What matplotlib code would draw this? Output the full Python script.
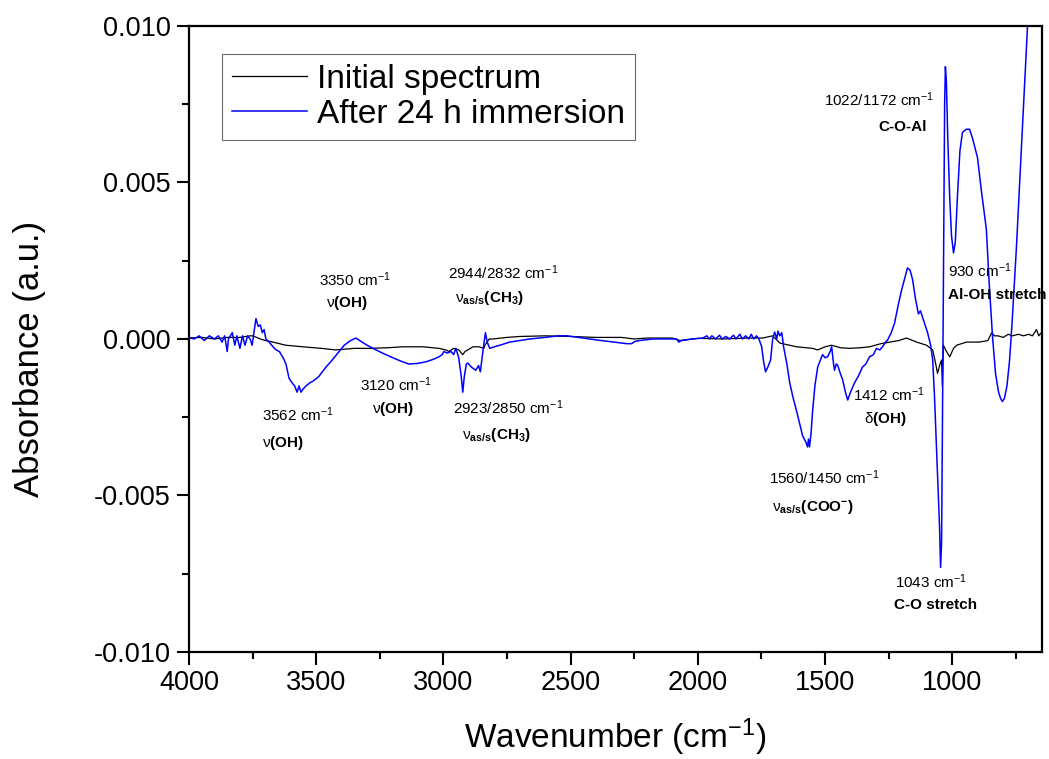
"""
FTIR difference spectra: initial vs after 24 h immersion.
Values read off the reference picture.
"""

import matplotlib
matplotlib.use('Agg')
import matplotlib.pyplot as plt
from matplotlib.ticker import MultipleLocator

# font settings (Arial-like)
plt.rcParams['font.family'] = ['Liberation Sans', 'DejaVu Sans']
plt.rcParams['mathtext.fontset'] = 'custom'
plt.rcParams['mathtext.rm'] = 'Liberation Sans'
plt.rcParams['mathtext.it'] = 'Liberation Sans:italic'
plt.rcParams['mathtext.bf'] = 'Liberation Sans:bold'
plt.rcParams['axes.unicode_minus'] = False

# ---------------- data ----------------
# initial spectrum (black)
wn_initial = [4000, 3950, 3900, 3850, 3800, 3760, 3749, 3720, 3700, 3670, 3620, 3552,
              3480, 3423, 3350, 3293, 3220, 3159, 3080, 3018, 2990, 2979, 2960, 2939,
              2930, 2924, 2915, 2904, 2884, 2860, 2841, 2837, 2820, 2806, 2750, 2700,
              2600, 2500, 2400, 2300, 2250, 2200, 2100, 2071, 2000, 1900, 1800, 1745,
              1706, 1678, 1612, 1549, 1529, 1500, 1474, 1440, 1404, 1360, 1325, 1280,
              1246, 1210, 1180, 1140, 1101, 1077, 1065, 1058, 1048, 1042, 1039, 1035,
              1026, 1010, 995, 983, 944, 893, 860, 845, 834, 820, 800, 780, 763, 740,
              720, 700, 685, 669, 660, 650]
abs_initial = [0.00003, 0.00005, 0.0, 0.00005, 0.00005, 0.0001, 0.0001, 0.0, -0.00005,
               -0.0001, -0.0002, -0.00025, -0.0003, -0.00035, -0.0003, -0.0003, -0.00028,
               -0.00025, -0.00025, -0.0003, -0.00035, -0.0004, -0.0003, -0.00035, -0.00045,
               -0.0005, -0.0004, -0.00035, -0.00025, -0.00025, -0.0003, -0.0002, 0.0, 0.0,
               0.00005, 0.00008, 0.0001, 0.00008, 0.00005, 0.00005, 0.0, 0.00003, 0.00003,
               -0.00005, 0.00002, 0.0, 0.00003, 0.00003, 0.0001, -0.00013, -0.00025,
               -0.0003, -0.00035, -0.00025, -0.0002, -0.00028, -0.0003, -0.00028, -0.00025,
               -0.00015, -0.0001, -0.00005, 0.00003, -0.0001, -0.0002, -0.00035, -0.0008,
               -0.0011, -0.0008, -0.00067, -0.0015, -0.0002, -0.00035, -0.00057, -0.0003,
               -0.0002, -0.0001, -0.0001, -0.00005, 0.0002, 0.0001, 0.0001, 0.00005,
               0.00015, 0.0001, 0.00015, 0.0001, 0.00015, 0.0001, 0.0003, 0.0001, 0.0002]

# after 24 h immersion (blue)
wn_immersed = [4000, 3980, 3960, 3940, 3920, 3900, 3885, 3870, 3860, 3850, 3845, 3830,
               3820, 3812, 3800, 3790, 3780, 3770, 3760, 3752, 3745, 3737, 3728, 3720,
               3712, 3705, 3698, 3685, 3670, 3658, 3645, 3630, 3619, 3607, 3595, 3585,
               3575, 3568, 3560, 3552, 3540, 3525, 3513, 3490, 3462, 3440, 3415, 3390,
               3365, 3344, 3320, 3300, 3277, 3240, 3199, 3170, 3136, 3100, 3069, 3040,
               3018, 3005, 2998, 2985, 2970, 2960, 2951, 2940, 2930, 2924, 2918, 2910,
               2904, 2890, 2873, 2862, 2855, 2845, 2835, 2828, 2818, 2800, 2778, 2740,
               2700, 2660, 2600, 2550, 2515, 2470, 2425, 2380, 2330, 2280, 2260, 2248,
               2230, 2177, 2120, 2083, 2075, 2065, 2020, 1980, 1965, 1955, 1945, 1930,
               1915, 1905, 1890, 1875, 1860, 1850, 1835, 1825, 1812, 1800, 1790, 1780,
               1769, 1760, 1749, 1742, 1734, 1725, 1714, 1706, 1698, 1690, 1685, 1678,
               1670, 1663, 1650, 1639, 1625, 1612, 1600, 1588, 1575, 1569, 1565, 1561,
               1555, 1549, 1540, 1529, 1510, 1500, 1490, 1480, 1474, 1468, 1463, 1456,
               1451, 1440, 1431, 1420, 1411, 1400, 1384, 1370, 1353, 1340, 1325, 1310,
               1298, 1285, 1274, 1262, 1254, 1240, 1227, 1212, 1199, 1188, 1176, 1166,
               1156, 1145, 1133, 1125, 1117, 1105, 1097, 1085, 1077, 1070, 1062, 1055,
               1050, 1046, 1042, 1038, 1034, 1030, 1027, 1023, 1018, 1010, 1003, 995,
               988, 980, 970, 960, 945, 932, 920, 901, 885, 866, 855, 842, 830, 818,
               810, 803, 795, 785, 775, 765, 748, 730, 715, 704, 695]
abs_immersed = [0.00005, 0.0, 0.0001, -0.00005, 0.0001, 0.0, 0.0001, -0.0001, 0.0001,
                -0.0004, 0.0, 0.0002, -0.0002, 0.0001, -0.0003, 0.0001, -0.0002, 0.0001,
                0.0, -0.0002, 0.0002, 0.00065, 0.0004, 0.00045, 0.0002, 0.0003, 0.0,
                -0.0001, -0.00025, -0.00035, -0.0004, -0.0006, -0.0008, -0.00125, -0.0014,
                -0.0015, -0.0017, -0.0015, -0.0017, -0.0016, -0.0015, -0.0014, -0.00135,
                -0.0012, -0.0009, -0.0007, -0.00045, -0.0002, -0.00005, 0.00003, -0.0001,
                -0.0002, -0.0003, -0.00045, -0.0006, -0.0007, -0.0008, -0.00078, -0.00073,
                -0.00065, -0.00057, -0.0005, -0.0004, -0.00045, -0.0004, -0.0005, -0.0003,
                -0.0006, -0.0012, -0.0017, -0.0012, -0.0008, -0.00077, -0.0009, -0.001,
                -0.00085, -0.00105, -0.0004, 0.0002, -0.0001, -0.0003, -0.00025, -0.0002,
                -0.0001, -0.00005, 0.0, 0.00005, 0.0001, 0.0001, 0.00005, 0.0, -0.00005,
                -0.0001, -0.00015, -0.00015, -0.00008, -0.00005, 0.0, 0.0, 0.0, -0.0001,
                -0.00005, 0.0, 0.00003, 0.0001, 0.0, 0.0001, 0.0, 0.00012, 0.0, 0.00008,
                0.0, 0.00012, 0.0, 0.00015, 0.0, 0.0001, 0.0, 0.00015, 0.0, 0.0001, 0.0,
                -0.00025, -0.0007, -0.00105, -0.0009, -0.00067, 0.0, 0.00022, 0.0, 0.00025,
                0.0001, 0.0002, -0.00025, -0.0008, -0.0014, -0.0019, -0.0023, -0.0027,
                -0.0031, -0.0033, -0.00345, -0.0032, -0.00345, -0.003, -0.0023, -0.0015,
                -0.0009, -0.0005, -0.0006, -0.00057, -0.0004, -0.00025, -0.0007, -0.001,
                -0.0008, -0.00083, -0.0011, -0.0013, -0.0017, -0.00195, -0.0017, -0.0014,
                -0.0012, -0.0009, -0.0008, -0.00057, -0.0005, -0.0003, -0.00035, -0.00025,
                -0.0001, -0.00003, 0.0002, 0.0005, 0.0011, 0.00157, 0.0019, 0.00227, 0.0022,
                0.0019, 0.0013, 0.0008, 0.0009, 0.0007, 0.0004, 0.0002, -0.0002, -0.00067,
                -0.0018, -0.0035, -0.005, -0.006, -0.0073, -0.0065, -0.002, 0.003, 0.0075,
                0.0087, 0.0082, 0.0065, 0.0045, 0.0033, 0.00275, 0.0031, 0.0045, 0.006,
                0.0066, 0.0067, 0.0067, 0.0064, 0.0058, 0.0047, 0.0035, 0.0018, 0.0001,
                -0.0011, -0.0017, -0.0019, -0.002, -0.0019, -0.0015, -0.0007, 0.0005,
                0.0029, 0.0058, 0.0082, 0.010, 0.0115]

# band labels: position of wavenumber line and of assignment line
band_pos = [(3348, 0.00189), (3572, -0.00243), (3187, -0.00147), (2767, 0.00211),
            (2747, -0.0022), (1502, -0.00444), (1250, -0.00179), (1085, -0.00776),
            (1286, 0.00764), (893, 0.00217)]
band_text = ['3350 cm$^{-1}$', '3562 cm$^{-1}$', '3120 cm$^{-1}$', '2944/2832 cm$^{-1}$',
             '2923/2850 cm$^{-1}$', '1560/1450 cm$^{-1}$', '1412 cm$^{-1}$', '1043 cm$^{-1}$',
             '1022/1172 cm$^{-1}$', '930 cm$^{-1}$']
assign_pos = [(3379, 0.00115), (3631, -0.00332), (3199, -0.00224), (2818, 0.00131),
              (2790, -0.00307), (1549, -0.00537), (1262, -0.00256), (1066, -0.0085),
              (1195, 0.00677), (822, 0.00141)]
assign_text = [r'$\mathrm{\nu}\mathbf{(OH)}$', r'$\mathrm{\nu}\mathbf{(OH)}$',
               r'$\mathrm{\nu}\mathbf{(OH)}$',
               r'$\mathrm{\nu}_{\mathbf{as/s}}\mathbf{(CH_3)}$',
               r'$\mathrm{\nu}_{\mathbf{as/s}}\mathbf{(CH_3)}$',
               r'$\mathrm{\nu}_{\mathbf{as/s}}\mathbf{(COO^{-})}$',
               r'$\mathrm{\delta}\mathbf{(OH)}$',
               'C-O stretch', 'C-O-Al', 'Al-OH stretch']

# ---------------- plot ----------------
fig = plt.figure(figsize=(10.49, 7.59), dpi=100)
ax = fig.add_axes([0.1802, 0.141, 0.8132, 0.8248])

ax.plot(wn_initial, abs_initial, color='black', lw=0.9, label='Initial spectrum')
ax.plot(wn_immersed, abs_immersed, color='#0000ff', lw=1.1, label='After 24 h immersion')

ax.set_xlim(4000, 647)
ax.set_ylim(-0.010, 0.010)
ax.xaxis.set_major_locator(MultipleLocator(500))
ax.xaxis.set_minor_locator(MultipleLocator(250))
ax.yaxis.set_major_locator(MultipleLocator(0.005))
ax.yaxis.set_minor_locator(MultipleLocator(0.0025))
ax.yaxis.set_major_formatter(plt.FormatStrFormatter('%.3f'))

ax.tick_params(which='major', direction='out', length=9, width=1.5, labelsize=19.5, pad=4)
ax.tick_params(which='minor', direction='out', length=5, width=1.5)
for sp in ax.spines.values():
    sp.set_linewidth(1.6)

ax.set_xlabel('Wavenumber (cm$^{-1}$)', fontsize=24, labelpad=15)
ax.set_ylabel('Absorbance (a.u.)', fontsize=25)
ax.yaxis.set_label_coords(-0.168, 0.468)

# band annotations
for (x, y), t in zip(band_pos, band_text):
    ax.text(x, y, t, fontsize=11, ha='center', va='center', clip_on=False)
for (x, y), t in zip(assign_pos, assign_text):
    ax.text(x, y, t, fontsize=11, ha='center', va='center', fontweight='bold',
            clip_on=False)

leg = ax.legend(loc='upper left', bbox_to_anchor=(0.039, 0.955), fontsize=24,
                frameon=True, fancybox=False, handlelength=2.25, handletextpad=0.3,
                borderpad=0.3, borderaxespad=0, labelspacing=0.12)
leg.get_frame().set_edgecolor('#444444')
leg.get_frame().set_linewidth(0.8)

plt.savefig('out.png', dpi=100)
